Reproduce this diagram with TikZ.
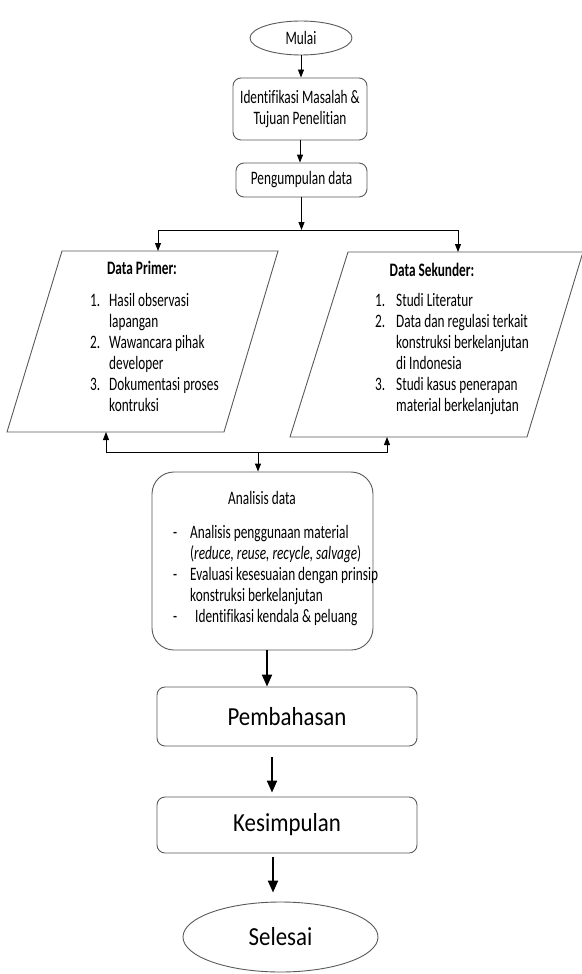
\documentclass[tikz,border=0pt]{standalone}
\usepackage{fontspec}
\setmainfont[FakeStretch=0.7, Ligatures=NoCommon]{Carlito}
\newfontfamily\bigfont[FakeStretch=0.88, Ligatures=NoCommon]{Carlito}
\usetikzlibrary{shapes.geometric, arrows.meta}

\tikzset{
    term/.style={ellipse, draw=black!65, line width=0.9pt, inner sep=0pt},
    proc/.style={rectangle, rounded corners=8pt, draw=black!65, line width=0.9pt, inner sep=0pt},
    para/.style={draw=black!65, line width=0.9pt},
    arr/.style={-{Triangle[length=8pt,width=6pt]}, line width=0.9pt},
    barr/.style={-{Triangle[length=12pt,width=10pt]}, line width=2pt},
    txt/.style={font=\fontsize{19}{21}\selectfont, inner sep=0pt},
    bigtxt/.style={font=\bigfont\fontsize{26}{30}\selectfont},
}

\begin{document}
\begin{tikzpicture}[x=1pt,y=-1pt]
    \useasboundingbox (0,0) rectangle (581,974);

    % top part
    \node[term, txt, minimum width=102pt, minimum height=34pt] (mulai) at (301,38) {Mulai};
    \node[proc, txt, minimum width=134pt, minimum height=62pt, align=center] (ident) at (300,109) {Identifikasi Masalah \&\\Tujuan Penelitian};
    \node[proc, txt, minimum width=131pt, minimum height=34pt] (kumpul) at (301.5,180) {Pengumpulan data};
    \draw[arr] (mulai.south) -- (ident.north -| mulai.south);
    \draw[arr] (ident.south) -- (kumpul.north -| ident.south);

    % data primer / sekunder
    \coordinate (jl) at (158,230);
    \coordinate (jr) at (458,230);
    \coordinate (pr1) at (62,251);  \coordinate (pr2) at (278,251);
    \coordinate (pr3) at (224,432); \coordinate (pr4) at (7,432);
    \coordinate (sk1) at (348,252); \coordinate (sk2) at (583,252);
    \coordinate (sk3) at (527,437); \coordinate (sk4) at (290,437);
    \draw[para] (pr1) -- (pr2) -- (pr3) -- (pr4) -- cycle;
    \draw[para] (sk1) -- (sk2) -- (sk3) -- (sk4) -- cycle;
    \draw[arr] (kumpul.south) -- (kumpul.south |- jl);
    \draw[arr] (jl -| jr) -- (jr) -- (jr |- sk1);
    \draw[arr] (jl -| jr) -- (jl) -- (jl |- pr1);

    \node[txt, font=\bfseries\fontsize{19}{21}\selectfont] (primer) at (142,268) {Data Primer:};
    \node[txt, align=left, anchor=north west] (primerlist) at (90,293)
        {\makebox[19pt][l]{1.}Hasil observasi\\\hspace*{19pt}lapangan\\
         \makebox[19pt][l]{2.}Wawancara pihak\\\hspace*{19pt}developer\\
         \makebox[19pt][l]{3.}Dokumentasi proses\\\hspace*{19pt}kontruksi};
    \node[txt, font=\bfseries\fontsize{19}{21}\selectfont] (sekunder) at (432,270) {Data Sekunder:};
    \node[txt, align=left, anchor=north west] (sekunderlist) at (375,293)
        {\makebox[21pt][l]{1.}Studi Literatur\\
         \makebox[21pt][l]{2.}Data dan regulasi terkait\\\hspace*{21pt}konstruksi berkelanjutan\\\hspace*{21pt}di Indonesia\\
         \makebox[21pt][l]{3.}Studi kasus penerapan\\\hspace*{21pt}material berkelanjutan};

    % analisis
    \node[proc, rounded corners=22pt, minimum width=221pt, minimum height=178pt] (analisis) at (262.5,561) {};
    \coordinate (bl) at (106,452);
    \coordinate (br) at (387,452);
    \draw[arr] (bl -| analisis.north) -- (bl) -- (bl |- pr4);
    \draw[arr] (bl -| analisis.north) -- (br) -- (br |- sk4);
    \draw[arr] (bl -| 258,0) -- (analisis.north -| 258,0);
    \node[txt] (anjudul) at (262,498) {Analisis data};
    \node[txt, align=left, anchor=north west] (anlist) at (173,525)
        {\makebox[17pt][l]{-}Analisis penggunaan material\\
         \hspace*{17pt}(\textit{reduce, reuse, recycle, salvage})\\
         \makebox[17pt][l]{-}Evaluasi kesesuaian dengan prinsip\\
         \hspace*{17pt}konstruksi berkelanjutan\\
         \makebox[17pt][l]{-}\hspace*{5pt}Identifikasi kendala \& peluang};

    % bottom part
    \node[proc, bigtxt, minimum width=260pt, minimum height=59pt] (bahas) at (287,716.5) {Pembahasan};
    \node[proc, bigtxt, minimum width=260pt, minimum height=56pt] (simpul) at (287,825) {Kesimpulan};
    \node[term, bigtxt, minimum width=195pt, minimum height=70pt] (selesai) at (280.5,937) {Selesai};
    \draw[barr] (analisis.south -| 267,0) -- (bahas.north -| 267,0);
    \draw[barr, shorten <=11pt, shorten >=4pt] (bahas.south -| 272,0) -- (simpul.north -| 272,0);
    \draw[barr, shorten <=4pt, shorten >=9pt] (simpul.south -| 273,0) -- (selesai.north -| 273,0);
\end{tikzpicture}
\end{document}
